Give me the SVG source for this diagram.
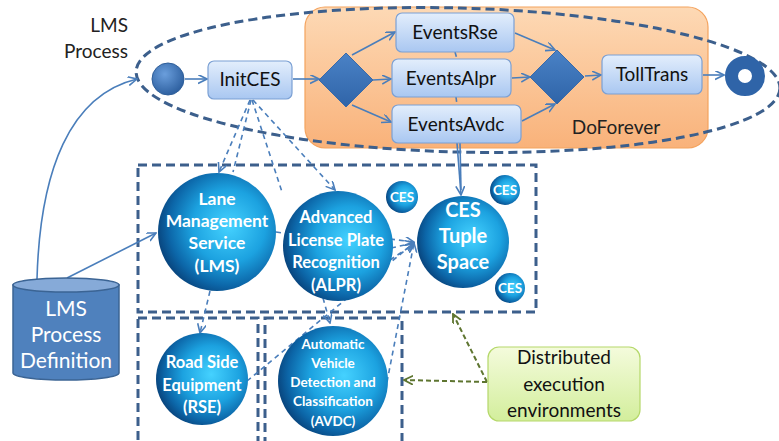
<svg xmlns="http://www.w3.org/2000/svg" width="779" height="441" viewBox="0 0 779 441">
<defs>
<style>
.box{stroke:#7ba0d4;stroke-width:1.2;fill:url(#gBox)}
.bt{font-family:Lato,"Liberation Sans",sans-serif;font-size:19px;fill:#111;text-anchor:middle}
.lbl{font-family:Lato,"Liberation Sans",sans-serif;font-size:19px;fill:#222}
.st{font-family:Lato,"Liberation Sans",sans-serif;font-weight:bold;fill:#fff;text-anchor:middle}
.sph{fill:url(#gSph)}
.dr{fill:none;stroke:#3c5f8c;stroke-width:3;stroke-dasharray:9 5}
.c{fill:none;stroke:#4a7ebb;stroke-width:1.6}
.cd{fill:none;stroke:#4a7ebb;stroke-width:1.6;stroke-dasharray:5 4}
.gd{fill:none;stroke:#5e7530;stroke-width:2;stroke-dasharray:5 3}
.dia{fill:url(#gDia);stroke:#3a6aa8;stroke-width:1}
.cy{font-family:Lato,"Liberation Sans",sans-serif;font-size:21px;fill:#fff;text-anchor:middle}
</style>
<linearGradient id="gBox" x1="0" y1="0" x2="0" y2="1"><stop offset="0" stop-color="#e3eefc"/><stop offset="1" stop-color="#a9c7f1"/></linearGradient>
<linearGradient id="gOr" x1="0" y1="0" x2="0" y2="1"><stop offset="0" stop-color="#fdd9b5"/><stop offset="1" stop-color="#f9b27a"/></linearGradient>
<linearGradient id="gGr" x1="0" y1="0" x2="0" y2="1"><stop offset="0" stop-color="#f4fbdc"/><stop offset="1" stop-color="#d3ee9c"/></linearGradient>
<linearGradient id="gDia" x1="0" y1="0" x2="0" y2="1"><stop offset="0" stop-color="#4a82c6"/><stop offset="1" stop-color="#2f64a8"/></linearGradient>
<radialGradient id="gSph" cx="0.6" cy="0.45" r="0.62"><stop offset="0" stop-color="#45d2ff"/><stop offset="0.5" stop-color="#1ca2e0"/><stop offset="0.82" stop-color="#0c66a8"/><stop offset="1" stop-color="#08427a"/></radialGradient>
<radialGradient id="gBall" cx="0.4" cy="0.35" r="0.7"><stop offset="0" stop-color="#6a9edc"/><stop offset="1" stop-color="#2a5c9c"/></radialGradient>
<marker id="a" markerWidth="10" markerHeight="10" refX="9" refY="4.5" orient="auto" markerUnits="userSpaceOnUse"><path d="M0,0 L9,4.5 L0,9" fill="none" stroke="#4a7ebb" stroke-width="1.6"/></marker>
<marker id="ag" markerWidth="10" markerHeight="10" refX="9" refY="4.5" orient="auto" markerUnits="userSpaceOnUse"><path d="M0,0 L9,4.5 L0,9" fill="none" stroke="#5e7530" stroke-width="1.8"/></marker>
</defs>
<rect width="779" height="441" fill="#fff"/>

<g id="doforever">
<rect x="305" y="7" width="403" height="141" rx="20" fill="url(#gOr)" stroke="#f4a35e" stroke-width="1.2"/>
<text class="lbl" font-size="20" x="616" y="134" text-anchor="middle">DoForever</text>
</g>

<g id="lms-process">
<ellipse cx="458" cy="80" rx="322" ry="72" transform="rotate(1.5 458 80)" fill="none" stroke="#3c5f8c" stroke-width="3" stroke-dasharray="9 5"/>
<text class="lbl" x="128" y="32" text-anchor="end">LMS</text>
<text class="lbl" x="128" y="58" text-anchor="end">Process</text>
</g>

<g id="containers">
<rect class="dr" x="138" y="165" width="398" height="147"/>
<rect class="dr" x="138" y="318" width="120" height="130"/>
<rect class="dr" x="265" y="318" width="137" height="130"/>
</g>

<g id="connectors">
<line class="c" x1="185" y1="79" x2="207" y2="79" marker-end="url(#a)"/>
<line class="c" x1="293" y1="79" x2="319" y2="79" marker-end="url(#a)"/>
<line class="c" x1="352" y1="55" x2="395" y2="32" marker-end="url(#a)"/>
<line class="c" x1="373" y1="80" x2="391" y2="79" marker-end="url(#a)"/>
<line class="c" x1="352" y1="105" x2="391" y2="122" marker-end="url(#a)"/>
<line class="c" x1="515" y1="33" x2="555" y2="50" marker-end="url(#a)"/>
<line class="c" x1="512" y1="78" x2="530" y2="77" marker-end="url(#a)"/>
<line class="c" x1="522" y1="121" x2="555" y2="104" marker-end="url(#a)"/>
<line class="c" x1="585" y1="76" x2="601" y2="75" marker-end="url(#a)"/>
<line class="c" x1="703" y1="75" x2="724" y2="75" marker-end="url(#a)"/>
<path class="c" d="M37,279 C40,170 70,95 137,79" marker-end="url(#a)"/>
<line class="c" x1="67" y1="278" x2="156" y2="233" marker-end="url(#a)"/>
<line class="cd" x1="455" y1="52" x2="457" y2="59"/>
<line class="cd" x1="456" y1="97" x2="457" y2="105"/>
<line class="c" x1="457" y1="143" x2="461" y2="195" marker-end="url(#a)"/>
<line class="c" x1="460" y1="143" x2="461" y2="190"/>
<line class="cd" x1="250" y1="100" x2="219" y2="172" marker-end="url(#a)"/>
<line class="cd" x1="251" y1="100" x2="233" y2="172"/>
<line class="cd" x1="252" y1="100" x2="282" y2="192"/>
<line class="cd" x1="253" y1="100" x2="335" y2="190" marker-end="url(#a)"/>
<line class="cd" x1="276" y1="232" x2="288" y2="234"/>
<line class="cd" x1="390" y1="239" x2="414" y2="242" marker-end="url(#a)"/>
<line class="cd" x1="391" y1="248" x2="414" y2="243" marker-end="url(#a)"/>
<line class="cd" x1="390" y1="260" x2="414" y2="244" marker-end="url(#a)"/>
<line class="cd" x1="387" y1="382" x2="414" y2="243" marker-end="url(#a)"/>
<line class="cd" x1="247" y1="381" x2="414" y2="243" marker-end="url(#a)"/>
<line class="cd" x1="323" y1="298" x2="330" y2="323" marker-end="url(#a)"/>
<line class="cd" x1="210" y1="291" x2="200" y2="333" marker-end="url(#a)"/>
<line class="gd" x1="487" y1="382" x2="404" y2="380" marker-end="url(#ag)"/>
<line class="gd" x1="487" y1="382" x2="453" y2="314" marker-end="url(#ag)"/>
</g>

<g id="start"><circle cx="168" cy="79" r="16" fill="url(#gBall)" stroke="#2f5f9a" stroke-width="1"/></g>
<g id="initces"><rect class="box" x="208" y="61" width="84" height="38" rx="6"/><text class="bt" x="250" y="86">InitCES</text></g>
<g id="split"><polygon class="dia" points="346,53 373,80 346,107 319,80"/></g>
<g id="eventsrse"><rect class="box" x="396" y="13" width="118" height="39" rx="6"/><text class="bt" x="455" y="39">EventsRse</text></g>
<g id="eventsalpr"><rect class="box" x="392" y="59" width="119" height="38" rx="6"/><text class="bt" x="451" y="85">EventsAlpr</text></g>
<g id="eventsavdc"><rect class="box" x="392" y="105" width="129" height="38" rx="6"/><text class="bt" x="456" y="131">EventsAvdc</text></g>
<g id="join"><polygon class="dia" points="557,50 584,77 557,104 530,77"/></g>
<g id="tolltrans"><rect class="box" x="602" y="55" width="100" height="39" rx="6"/><text class="bt" x="652" y="81">TollTrans</text></g>
<g id="end"><circle cx="745" cy="76" r="13.5" fill="none" stroke="#2f64a8" stroke-width="13"/></g>

<g id="lms">
<circle class="sph" cx="217" cy="232" r="59"/>
<text class="st" font-size="17.5" x="217" y="205">Lane</text>
<text class="st" font-size="17.5" x="217" y="227">Management</text>
<text class="st" font-size="17.5" x="217" y="249">Service</text>
<text class="st" font-size="17.5" x="217" y="272">(LMS)</text>
</g>
<g id="alpr">
<circle class="sph" cx="338" cy="246" r="55"/>
<text class="st" font-size="16.5" x="336" y="223">Advanced</text>
<text class="st" font-size="16.5" x="336" y="246">License Plate</text>
<text class="st" font-size="16.5" x="336" y="268">Recognition</text>
<text class="st" font-size="16.5" x="336" y="291">(ALPR)</text>
</g>
<g id="tuplespace">
<circle class="sph" cx="463" cy="242" r="46"/>
<text class="st" font-size="20" x="463" y="217">CES</text>
<text class="st" font-size="20" x="463" y="243">Tuple</text>
<text class="st" font-size="20" x="463" y="269">Space</text>
</g>
<g id="ces1"><circle class="sph" cx="402" cy="197" r="16"/><text class="st" font-size="13.5" x="402" y="202">CES</text></g>
<g id="ces2"><circle class="sph" cx="505" cy="190" r="15"/><text class="st" font-size="13.5" x="505" y="195">CES</text></g>
<g id="ces3"><circle class="sph" cx="510" cy="288" r="15"/><text class="st" font-size="13.5" x="510" y="293">CES</text></g>
<g id="rse">
<circle class="sph" cx="202" cy="379" r="46"/>
<text class="st" font-size="16.5" x="202" y="368">Road Side</text>
<text class="st" font-size="16.5" x="202" y="391">Equipment</text>
<text class="st" font-size="16.5" x="202" y="413">(RSE)</text>
</g>
<g id="avdc">
<circle class="sph" cx="333" cy="381" r="55"/>
<text class="st" font-size="13.5" x="333" y="349">Automatic</text>
<text class="st" font-size="13.5" x="333" y="368">Vehicle</text>
<text class="st" font-size="13.5" x="333" y="387">Detection and</text>
<text class="st" font-size="13.5" x="333" y="406">Classification</text>
<text class="st" font-size="13.5" x="333" y="426">(AVDC)</text>
</g>

<g id="lms-definition">
<path d="M13,285 L13,373 A53,7 0 0 0 119,373 L119,285 Z" fill="#4f81bd" stroke="#3b6494" stroke-width="1.5"/>
<ellipse cx="66" cy="285" rx="53" ry="7" fill="#86aad8" stroke="#3b6494" stroke-width="1.5"/>
<text class="cy" x="66" y="316">LMS</text>
<text class="cy" x="66" y="342">Process</text>
<text class="cy" x="66" y="368">Definition</text>
</g>

<g id="distributed">
<rect x="488" y="347" width="152" height="74" rx="11" fill="url(#gGr)" stroke="#b5d86a" stroke-width="1.2"/>
<text class="bt" font-size="20.5" x="564" y="364">Distributed</text>
<text class="bt" font-size="20.5" x="564" y="391">execution</text>
<text class="bt" font-size="20.5" x="564" y="417">environments</text>
</g>
</svg>
